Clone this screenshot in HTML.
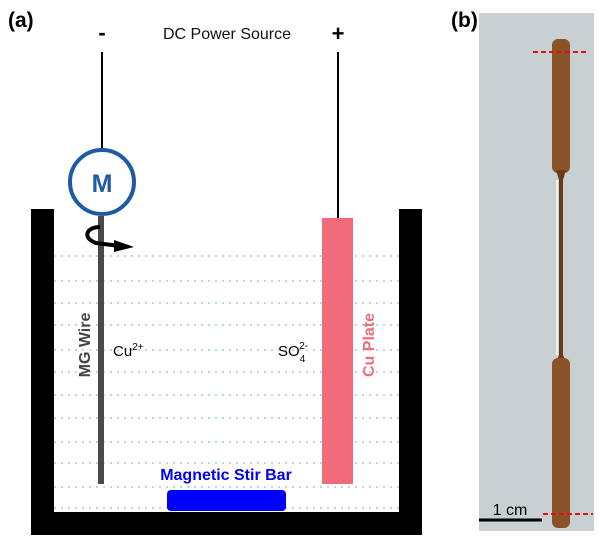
<!DOCTYPE html>
<html><head><meta charset="utf-8"><style>
body{margin:0;background:#fff;width:600px;height:538px;overflow:hidden}
svg{display:block;font-family:"Liberation Sans",sans-serif}
</style></head><body>
<svg width="600" height="538" viewBox="0 0 600 538">
<text x="8" y="27" font-size="21" font-weight="bold">(a)</text>
<text x="451" y="27" font-size="21" font-weight="bold">(b)</text>
<text x="227" y="39" font-size="16" text-anchor="middle" fill="#111">DC Power Source</text>
<text x="102" y="40" font-size="22" font-weight="bold" text-anchor="middle">-</text>
<text x="338" y="41" font-size="22" font-weight="bold" text-anchor="middle">+</text>
<line x1="102" y1="52" x2="102" y2="150" stroke="#000" stroke-width="2"/>
<line x1="338" y1="52" x2="338" y2="219" stroke="#000" stroke-width="2"/>
<g stroke="#6fb0d0" stroke-width="1" stroke-dasharray="2,5">
<line x1="54" y1="256" x2="399" y2="256"/><line x1="54" y1="281" x2="399" y2="281"/>
<line x1="54" y1="303" x2="399" y2="303"/><line x1="54" y1="325" x2="399" y2="325"/>
<line x1="54" y1="350" x2="399" y2="350"/><line x1="54" y1="372" x2="399" y2="372"/>
<line x1="54" y1="395" x2="399" y2="395"/><line x1="54" y1="418" x2="399" y2="418"/>
<line x1="54" y1="442" x2="399" y2="442"/><line x1="54" y1="463" x2="399" y2="463"/>
<line x1="54" y1="487" x2="399" y2="487"/><line x1="54" y1="508" x2="399" y2="508"/>
</g>
<path d="M31 209 H54 V512 H399 V209 H422 V535 H31 Z" fill="#000"/>
<rect x="98" y="216" width="6" height="268" fill="#4a4a4a"/>
<circle cx="102" cy="182" r="32" fill="#fff" stroke="#1f5aa6" stroke-width="4"/>
<text x="102" y="192" font-size="25" font-weight="bold" fill="#1f5aa6" text-anchor="middle">M</text>
<path d="M100 227 C86 227 82 238 96 243 L120 246" fill="none" stroke="#000" stroke-width="4"/>
<polygon points="114,240 134,247 114,252" fill="#000"/>
<rect x="322" y="218" width="31" height="266" fill="#f26b7a"/>
<text transform="translate(90,345) rotate(-90)" font-size="16" font-weight="bold" fill="#444" text-anchor="middle">MG Wire</text>
<text transform="translate(374,345) rotate(-90)" font-size="16" font-weight="bold" fill="#f26b7a" text-anchor="middle">Cu Plate</text>
<text x="113" y="356" font-size="15">Cu<tspan font-size="10" dy="-6">2+</tspan></text>
<text x="278" y="356" font-size="15">SO<tspan font-size="10" dy="6">4</tspan><tspan font-size="10" dx="-6" dy="-13">2-</tspan></text>
<text x="226" y="480" font-size="16" font-weight="bold" fill="#0000ee" text-anchor="middle">Magnetic Stir Bar</text>
<rect x="167" y="490" width="119" height="21" rx="4" fill="#0000ff"/>
<g>
<rect x="479" y="13" width="115" height="518" fill="#c8d0d3"/>
<rect x="552" y="39" width="18" height="134" rx="6" fill="#8a5226"/>
<path d="M556 170 L566 170 L563 180 L563 355 L566 362 L556 362 L559 355 L559 180 Z" fill="#6e3b1a"/>
<line x1="557" y1="180" x2="557" y2="355" stroke="#eef2f2" stroke-width="2"/>
<rect x="552" y="358" width="18" height="170" rx="6" fill="#8a5226"/>
<line x1="533" y1="52" x2="589" y2="52" stroke="#e01010" stroke-width="2" stroke-dasharray="5,3"/>
<line x1="543" y1="514" x2="593" y2="514" stroke="#e01010" stroke-width="2" stroke-dasharray="5,3"/>
<line x1="479" y1="520" x2="542" y2="520" stroke="#000" stroke-width="3"/>
<text x="510" y="515" font-size="16" text-anchor="middle">1 cm</text>
</g>
</svg>
</body></html>
